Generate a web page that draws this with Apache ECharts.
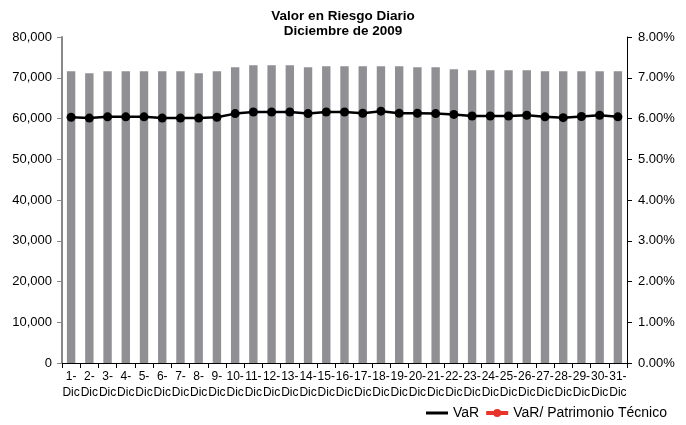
<!DOCTYPE html>
<html>
<head>
<meta charset="utf-8">
<script src="https://cdn.jsdelivr.net/npm/echarts@6/dist/echarts.min.js"></script>
<style>
html,body{margin:0;padding:0;background:#fff;}
#chart{width:686px;height:425px;}
</style>
</head>
<body>
<div id="chart"></div>
<script>
const categories = ['1-\nDic','2-\nDic','3-\nDic','4-\nDic','5-\nDic','6-\nDic','7-\nDic','8-\nDic','9-\nDic','10-\nDic',
  '11-\nDic','12-\nDic','13-\nDic','14-\nDic','15-\nDic','16-\nDic','17-\nDic','18-\nDic','19-\nDic','20-\nDic',
  '21-\nDic','22-\nDic','23-\nDic','24-\nDic','25-\nDic','26-\nDic','27-\nDic','28-\nDic','29-\nDic','30-\nDic','31-\nDic'];
const varValues = [71580,71090,71580,71580,71580,71580,71580,71090,71580,72560,
  73050,73050,73050,72560,72810,72810,72810,72810,72810,72560,
  72560,72070,71830,71830,71830,71830,71580,71580,71580,71580,71580];
const ratioValues = [6.03,6.01,6.04,6.04,6.04,6.01,6.01,6.01,6.03,6.12,
  6.16,6.16,6.16,6.12,6.16,6.16,6.13,6.18,6.13,6.13,
  6.12,6.10,6.06,6.06,6.06,6.08,6.04,6.02,6.05,6.08,6.04];
const leftTicks = {min:0, max:80000, interval:10000};
const rightTicks = {min:0, max:8, interval:1};

const chart = echarts.init(document.getElementById('chart'));
const font = 'Liberation Sans, Arial, sans-serif';
chart.setOption({
  animation:false,
  textStyle:{fontFamily:font},
  title:{
    text:'Valor en Riesgo Diario\nDiciembre de 2009',
    left:'center', top:4,
    textStyle:{fontFamily:font, fontSize:13.5, fontWeight:'bold', color:'#000', lineHeight:15}
  },
  grid:{left:62, right:59, top:37, bottom:62},
  legend:{
    right:14, bottom:0, itemGap:5, itemWidth:22, itemHeight:10,
    textStyle:{fontFamily:font, fontSize:14, color:'#000'},
    data:[
      {name:'VaR', icon:'path://M0,0H22V3H0Z', itemStyle:{color:'#000'}},
      {name:'VaR/ Patrimonio Técnico', itemStyle:{color:'#e8322a'}, lineStyle:{color:'#e8322a', width:4}}
    ]
  },
  xAxis:{
    type:'category', data:categories, boundaryGap:true,
    axisLine:{lineStyle:{color:'#000', width:1}},
    axisTick:{show:true, length:5, lineStyle:{color:'#000'}},
    axisLabel:{interval:0, fontSize:12, color:'#000', lineHeight:16, margin:6}
  },
  yAxis:[
    {type:'value', min:leftTicks.min, max:leftTicks.max, interval:leftTicks.interval,
     axisLine:{show:true, lineStyle:{color:'#888', width:2}},
     axisTick:{show:true, length:5, lineStyle:{color:'#888'}},
     splitLine:{show:false},
     axisLabel:{fontSize:13, color:'#000', margin:10,
       formatter:v=>v.toLocaleString('en-US')}},
    {type:'value', min:rightTicks.min, max:rightTicks.max, interval:rightTicks.interval, position:'right',
     axisLine:{show:true, lineStyle:{color:'#000', width:1}},
     axisTick:{show:true, length:5, lineStyle:{color:'#000'}},
     splitLine:{show:false},
     axisLabel:{fontSize:13, color:'#000', margin:11, formatter:v=>v.toFixed(2)+'%'}}
  ],
  series:[
    {name:'VaR', type:'bar', data:varValues, yAxisIndex:0, barWidth:'46%',
     itemStyle:{color:'#908f94'}},
    {name:'VaR/ Patrimonio Técnico', type:'line', data:ratioValues, yAxisIndex:1,
     symbol:'circle', symbolSize:9, lineStyle:{color:'#000', width:2.5},
     itemStyle:{color:'#000'}}
  ]
});
</script>
</body>
</html>
